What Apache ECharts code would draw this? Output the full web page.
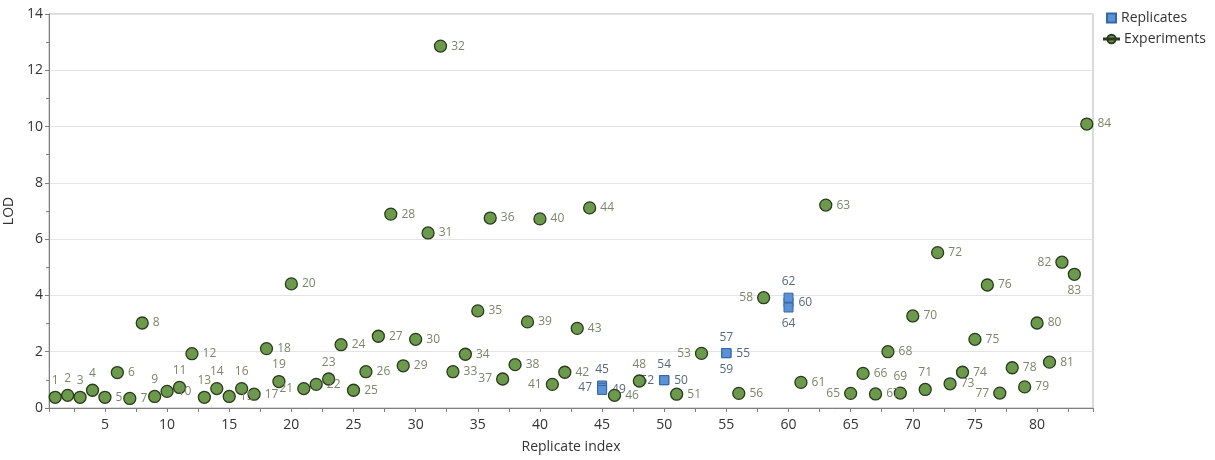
<!DOCTYPE html>
<html>
<head>
<meta charset="utf-8">
<title>LOD by replicate index</title>
<script src="https://cdn.jsdelivr.net/npm/echarts@6/dist/echarts.min.js"></script>
<style>
  html, body { margin: 0; padding: 0; background: #fff; }
  #chart { width: 1215px; height: 460px; }
</style>
</head>
<body>
<div id="chart"></div>
<script>
// Experiment points: replicate index and LOD value
const expIndex = [1, 2, 3, 4, 5, 6, 7, 8, 9, 10, 11, 12, 13, 14, 15, 16, 17, 18, 19, 20,
  21, 22, 23, 24, 25, 26, 27, 28, 29, 30, 31, 32, 33, 34, 35, 36, 37, 38, 39, 40,
  41, 42, 43, 44, 46, 48, 51, 53, 56, 58, 61, 63, 65, 66, 67, 68, 69, 70, 71, 72,
  73, 74, 75, 76, 77, 78, 79, 80, 81, 82, 83, 84];
const expLOD = [0.38, 0.45, 0.38, 0.63, 0.38, 1.26, 0.34, 3.02, 0.41, 0.59, 0.73, 1.93, 0.38, 0.69, 0.41, 0.69, 0.49, 2.11, 0.94, 4.41,
  0.69, 0.84, 1.03, 2.25, 0.63, 1.29, 2.55, 6.89, 1.50, 2.44, 6.22, 12.86, 1.29, 1.91, 3.45, 6.75, 1.03, 1.54, 3.06, 6.72,
  0.84, 1.27, 2.83, 7.11, 0.45, 0.96, 0.49, 1.94, 0.52, 3.92, 0.91, 7.21, 0.52, 1.23, 0.50, 2.00, 0.53, 3.27, 0.66, 5.52,
  0.86, 1.27, 2.44, 4.37, 0.53, 1.43, 0.75, 3.02, 1.63, 5.18, 4.75, 10.09];

// Replicate points: their own index, the group position they are plotted at, and LOD
const repIndex = [45, 47, 49, 50, 52, 54, 55, 57, 59, 60, 62, 64];
const repGroup = [45, 45, 45, 50, 50, 50, 55, 55, 55, 60, 60, 60];
const repLOD = [0.80, 0.72, 0.64, 0.99, 0.99, 0.99, 1.95, 1.95, 1.95, 3.75, 3.92, 3.57];

// Axis ranges and tick steps
const xRange = [0.5, 84.5];
const yRange = [0, 14];
const yStep = 2;

// Where each point's index label sits (default: right of the point)
const labelPlacement = {
  top: [1, 2, 3, 4, 9, 11, 13, 14, 16, 19, 23, 48, 69, 71, 45, 54, 57, 62],
  left: [21, 37, 41, 53, 58, 65, 77, 82, 47, 52],
  bottom: [83, 59, 64]
};
function placementOf(idx) {
  for (const pos of ['top', 'left', 'bottom']) {
    if (labelPlacement[pos].includes(idx)) return pos;
  }
  return 'right';
}

const FONT = "'Segoe UI', 'Open Sans', 'Noto Sans', sans-serif";
const GREEN = '#6c9a4c', GREEN_EDGE = '#2a3a1e', GREEN_TEXT = '#7a866a';
const BLUE = '#5b92d4', BLUE_EDGE = '#3567a8', BLUE_TEXT = '#56687f';

const expData = expIndex.map((idx, i) => ({
  value: [idx, expLOD[i], idx],
  label: { position: placementOf(idx) }
}));
const repData = repIndex.map((idx, i) => ({
  value: [repGroup[i], repLOD[i], idx],
  label: { position: placementOf(idx) }
}));

const chart = echarts.init(document.getElementById('chart'), null, { renderer: 'canvas' });

const circleIcon = 'path://M0,4.5h15v1h-15z M11.7,5a4.2,4.2 0 1,0 -8.4,0a4.2,4.2 0 1,0 8.4,0z';

chart.setOption({
  animation: false,
  backgroundColor: '#ffffff',
  textStyle: { fontFamily: FONT },
  grid: {
    left: 49, right: 122, top: 14, bottom: 52,
    containLabel: false, outerBoundsMode: 'none',
    show: true, borderColor: '#b4b4b4', borderWidth: 1, backgroundColor: 'transparent'
  },
  legend: [
    {
      data: ['Replicates'], icon: 'rect', orient: 'vertical',
      left: 1106, top: 11, itemWidth: 9, itemHeight: 9, itemGap: 0, padding: 0,
      textStyle: { fontFamily: FONT, fontSize: 14, color: '#333' }
    },
    {
      data: [{ name: 'Experiments', icon: circleIcon }], orient: 'vertical',
      left: 1103, top: 32, itemWidth: 15, itemHeight: 10, itemGap: 0, padding: 0,
      textStyle: { fontFamily: FONT, fontSize: 14, color: '#333' }
    }
  ],
  xAxis: {
    type: 'value',
    min: xRange[0], max: xRange[1],
    splitNumber: 17,
    name: 'Replicate index', nameLocation: 'middle', nameGap: 32,
    nameTextStyle: { fontFamily: FONT, fontSize: 14, color: '#333' },
    axisLine: { show: true, lineStyle: { color: '#7f7f7f', width: 1 } },
    axisTick: { show: true, length: 4, lineStyle: { color: '#7f7f7f' } },
    minorTick: { show: true, splitNumber: 2, length: 4, lineStyle: { color: '#7f7f7f' } },
    splitLine: { show: false },
    axisLabel: {
      fontFamily: FONT, fontSize: 14, color: '#333', margin: 10,
      showMinLabel: false, showMaxLabel: false,
      formatter: v => (Math.abs(v % 5) < 1e-9 ? String(v) : '')
    }
  },
  yAxis: {
    type: 'value',
    min: yRange[0], max: yRange[1], interval: yStep,
    name: 'LOD', nameLocation: 'middle', nameGap: 22,
    nameTextStyle: { fontFamily: FONT, fontSize: 14, color: '#333' },
    axisLine: { show: true, lineStyle: { color: '#7f7f7f', width: 1 } },
    axisTick: { show: true, length: 4, lineStyle: { color: '#7f7f7f' } },
    minorTick: { show: true, splitNumber: 2, length: 3, lineStyle: { color: '#7f7f7f' } },
    splitLine: { show: true, lineStyle: { color: '#e4e4e4', width: 1 } },
    axisLabel: { fontFamily: FONT, fontSize: 14, color: '#333', margin: 6 }
  },
  series: [
    {
      name: 'Replicates',
      type: 'scatter',
      symbol: 'rect',
      symbolSize: 9,
      itemStyle: { color: BLUE, borderColor: BLUE_EDGE, borderWidth: 1, opacity: 1 },
      label: {
        show: true, distance: 5,
        formatter: p => String(p.value[2]),
        fontFamily: FONT, fontSize: 12, color: BLUE_TEXT
      },
      emphasis: { disabled: true },
      data: repData,
      z: 2
    },
    {
      name: 'Experiments',
      type: 'scatter',
      symbol: 'circle',
      symbolSize: 12,
      itemStyle: { color: GREEN, borderColor: GREEN_EDGE, borderWidth: 1.3, opacity: 1 },
      label: {
        show: true, distance: 4,
        formatter: p => String(p.value[2]),
        fontFamily: FONT, fontSize: 12, color: GREEN_TEXT
      },
      emphasis: { disabled: true },
      data: expData,
      z: 3
    }
  ]
});
</script>
</body>
</html>
